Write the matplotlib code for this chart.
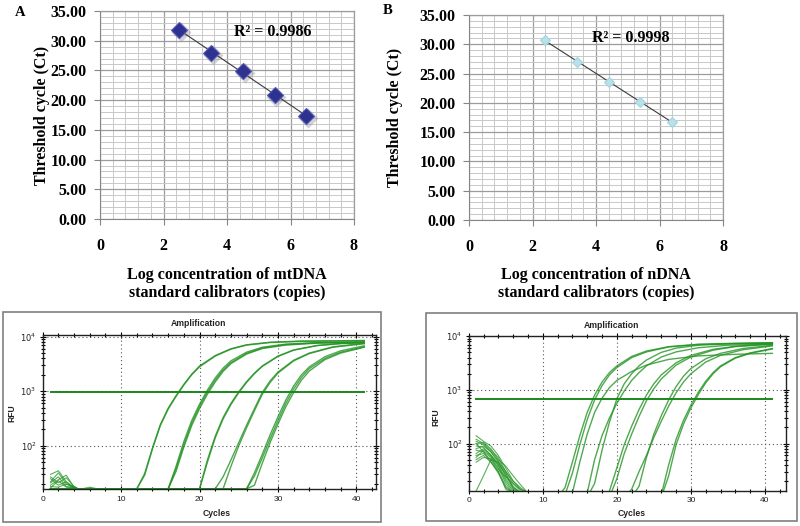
"""
plot.py
Standardkurven (mtDNA / nDNA) und Amplifikationskurven der qPCR.
"""

import matplotlib
matplotlib.use("Agg")
import matplotlib.pyplot as plt
import matplotlib.transforms as mtransforms
from matplotlib.patches import Rectangle
from matplotlib.ticker import MultipleLocator, FixedLocator, LogLocator, NullFormatter
import numpy as np

# ─── Standardkurven (oben) ────────────────────────────────────────────────────
MT_LOG = [2.5, 3.5, 4.5, 5.5, 6.5]
MT_CT = [31.8, 28.0, 24.9, 20.9, 17.3]
MT_R2 = "R² = 0.9986"

N_LOG = [2.4, 3.4, 4.4, 5.4, 6.4]
N_CT = [30.7, 27.0, 23.6, 20.2, 16.7]
N_R2 = "R² = 0.9998"

X_TICKS = [0, 2, 4, 6, 8]
Y_TICKS = [0, 5, 10, 15, 20, 25, 30, 35]

# ─── Amplifikation A (mtDNA) ──────────────────────────────────────────────────
A_G1_CYC = [1, 12, 13, 14, 15, 16, 17, 18, 19, 20, 22, 24, 26, 29, 33, 41]
A_G1_RFU = [
    [16.3, 16.3, 29, 88, 235, 470, 800, 1300, 2000, 2800, 4400, 5900, 7000, 7800, 8200, 8400],
    [16.3, 16.3, 31, 92, 245, 490, 830, 1340, 2050, 2900, 4500, 6000, 7100, 7900, 8300, 8500],
]
A_G2_CYC = [1, 16, 17, 18, 19, 20, 21, 22, 23, 24, 26, 28, 31, 35, 41]
A_G2_RFU = [
    [16.3, 16.3, 42, 120, 290, 580, 1050, 1750, 2650, 3600, 5200, 6400, 7300, 7800, 8000],
    [16.3, 16.3, 38, 105, 260, 530, 960, 1600, 2450, 3350, 4950, 6200, 7150, 7700, 7900],
    [16.3, 16.3, 34, 95, 235, 480, 880, 1480, 2300, 3200, 4800, 6050, 7000, 7600, 7850],
]
A_G3_CYC = [1, 20, 21, 22, 23, 24, 25, 26, 27, 28, 30, 32, 35, 38, 41]
A_G3_RFU = [
    [16.3, 16.3, 55, 150, 330, 600, 980, 1500, 2150, 2900, 4400, 5700, 6900, 7500, 7800],
    [16.3, 16.3, 50, 140, 310, 570, 940, 1450, 2100, 2850, 4350, 5650, 6850, 7450, 7750],
]
A_G4_CYC = [1, 22, 23, 24, 25, 26, 27, 28, 29, 30, 32, 34, 37, 41]
A_G4_RFU = [
    [16.3, 16.3, 27, 55, 115, 240, 480, 950, 1550, 2250, 3700, 5000, 6500, 7600],
    [16.3, 16.3, 16.3, 42, 100, 215, 440, 880, 1450, 2150, 3600, 4900, 6400, 7400],
]
A_G5_CYC = [1, 26, 27, 28, 29, 30, 31, 32, 33, 34, 36, 38, 41]
A_G5_RFU = [
    [16.3, 16.3, 28, 60, 135, 290, 600, 1100, 1800, 2600, 4000, 5200, 6500],
    [16.3, 16.3, 32, 70, 160, 340, 690, 1250, 2000, 2800, 4300, 5500, 6800],
    [16.3, 16.3, 19, 48, 115, 250, 520, 950, 1600, 2350, 3800, 5000, 6400],
]
A_RAUSCH_CYC = [1, 2, 3, 4, 5]
A_RAUSCH_RFU = [
    [30, 35, 22, 17, 15],
    [27, 21, 26, 18, 15],
    [22, 32, 20, 16.8, 15],
    [19, 24, 29, 17.5, 15],
    [18, 17.5, 20, 18, 15],
    [25, 19, 22, 16.8, 15],
    [17, 23, 17.5, 17, 15],
    [21, 27, 18, 17.2, 15],
]
A_HUEGEL_CYC = [5, 6, 7]
A_HUEGEL_RFU = [16.3, 17.5, 16.3]
A_SCHWELLE_CYC = [1, 41]
A_SCHWELLE_RFU = [960, 960]

# ─── Amplifikation B (nDNA) ───────────────────────────────────────────────────
B_G1_CYC = [12, 13, 14, 15, 16, 17, 18, 19, 20, 22, 24, 27, 31, 36, 41]
B_G1_RFU = [
    [10, 15, 45, 140, 380, 800, 1400, 2100, 2800, 4200, 5300, 6400, 7100, 7400, 7600],
    [10, 11, 28, 95, 280, 650, 1200, 1900, 2600, 4000, 5100, 6300, 7000, 7300, 7400],
    [10, 10, 12, 45, 150, 380, 700, 1100, 1500, 2200, 2900, 3700, 4300, 4600, 4800],
]
B_G2_CYC = [15, 16, 17, 18, 19, 20, 21, 22, 23, 24, 26, 28, 31, 35, 41]
B_G2_RFU = [
    [10, 12, 50, 140, 300, 560, 950, 1500, 2100, 2800, 4100, 5100, 6100, 6800, 7200],
    [10, 10, 18, 75, 250, 680, 1300, 2000, 2800, 3600, 5000, 6000, 6800, 7200, 7500],
]
B_G3_CYC = [18, 19, 20, 21, 22, 23, 24, 25, 26, 28, 30, 33, 36, 41]
B_G3_RFU = [
    [10, 13, 35, 95, 210, 430, 800, 1300, 1900, 3200, 4400, 5700, 6500, 7200],
    [10, 10, 22, 65, 150, 320, 630, 1050, 1600, 2900, 4100, 5500, 6400, 7100],
]
B_G4_CYC = [21, 22, 23, 24, 25, 26, 27, 28, 29, 30, 32, 34, 37, 41]
B_G4_RFU = [
    [10, 14, 30, 60, 130, 260, 500, 880, 1400, 2000, 3300, 4400, 5600, 6600],
    [10, 10, 16, 55, 150, 330, 650, 1150, 1800, 2500, 3800, 4800, 5900, 6800],
]
B_G5_CYC = [25, 26, 27, 28, 29, 30, 31, 32, 33, 34, 36, 38, 41]
B_G5_RFU = [
    [10, 11, 40, 120, 270, 520, 900, 1450, 2100, 2800, 4000, 4900, 5900],
    [10, 10, 25, 95, 230, 460, 820, 1350, 2000, 2700, 3900, 4800, 5800],
]
B_RAUSCH_CYC = [1, 2, 3, 4, 5, 6, 7, 8]
B_RAUSCH_RFU = [
    [140, 110, 90, 60, 35, 20, 15, 12],
    [120, 100, 75, 55, 30, 18, 13, 12],
    [110, 95, 70, 45, 25, 15, 12, 12],
    [100, 105, 80, 50, 38, 25, 17, 12],
    [90, 85, 60, 40, 22, 14, 12, 12],
    [80, 90, 70, 48, 30, 20, 14, 12],
    [75, 70, 55, 35, 18, 12, 12, 12],
    [65, 80, 62, 42, 26, 16, 12, 12],
    [60, 65, 50, 30, 16, 12, 12, 12],
    [55, 75, 58, 38, 20, 13, 12, 12],
    [50, 60, 45, 28, 15, 12, 12, 12],
    [45, 55, 52, 33, 24, 18, 14, 12],
    [13, 25, 50, 45, 28, 15, 12, 12],
    [100, 70, 45, 30, 14, 12, 12, 12],
]
B_SCHWELLE_CYC = [1, 41]
B_SCHWELLE_RFU = [673, 673]

# ─── Stil ─────────────────────────────────────────────────────────────────────
SERIF = ["Liberation Serif", "DejaVu Serif"]
SANS = ["Liberation Sans", "DejaVu Sans"]
GRUEN = "#239323"

fig = plt.figure(figsize=(8, 5.26), dpi=100)
W, H = 800, 526


def rect_px(links, oben, rechts, unten):
    return [links / W, 1 - unten / H, (rechts - links) / W, (unten - oben) / H]


def standardkurve(rect, x, y, r2, r2_pos, farbe, kante, ms, schatten, ylab_x):
    ax = fig.add_axes(rect)
    ax.set_xlim(0, 8)
    ax.set_ylim(0, 35)
    ax.xaxis.set_major_locator(FixedLocator(X_TICKS))
    ax.yaxis.set_major_locator(FixedLocator(Y_TICKS))
    ax.xaxis.set_minor_locator(MultipleLocator(0.4))
    ax.yaxis.set_minor_locator(MultipleLocator(1))
    ax.set_yticklabels([f"{v:.2f}" for v in Y_TICKS])
    ax.grid(which="major", color="#9c9c9c", lw=0.9)
    ax.grid(which="minor", color="#c8c8c8", lw=0.7)
    ax.set_axisbelow(True)
    for s in ("left", "bottom"):
        ax.spines[s].set_color("#868686")
    for s in ("top", "right"):
        ax.spines[s].set_color("#9c9c9c")
        ax.spines[s].set_linewidth(0.9)
    ax.tick_params(which="major", length=4, color="#868686", labelsize=11.5)
    ax.tick_params(axis="x", pad=10)
    ax.tick_params(axis="y", pad=5.5)
    ax.tick_params(which="minor", length=0)
    for lab in ax.get_xticklabels() + ax.get_yticklabels():
        lab.set_family(SERIF)
        lab.set_fontweight("bold")

    # lineare Trendlinie
    k, d = np.polyfit(x, y, 1)
    xs = np.array([min(x), max(x)])
    ax.plot(xs, k * xs + d, color="#3a3a3a", lw=0.8, zorder=3)

    if schatten:
        versatz = mtransforms.offset_copy(ax.transData, fig=fig, x=1.2, y=-1.5, units="points")
        ax.plot(x, y, "D", ms=ms + 1.5, color="#9a9aa8", alpha=0.45, mec="none",
                transform=versatz, zorder=2)
    ax.plot(x, y, "D", ms=ms, color=farbe, mec=kante, mew=0.8, zorder=4)

    ax.text(r2_pos[0], r2_pos[1], r2, transform=ax.transAxes, ha="center", va="center",
            fontsize=11.5, fontweight="bold", family=SERIF)
    ax.set_ylabel("Threshold cycle (Ct)", fontsize=11.5, fontweight="bold", family=SERIF)
    ax.yaxis.set_label_coords(ylab_x, 0.5)
    return ax


def amplifikation(rect, gruppen, rauschen, schwelle, xlim, ylim):
    ax = fig.add_axes(rect)
    ax.set_yscale("log")
    for cyc, reps in gruppen:
        for rfu in reps:
            ax.plot(cyc, rfu, color=GRUEN, lw=1.0, alpha=0.8)
    for cyc, reps in rauschen:
        for rfu in reps:
            ax.plot(cyc, rfu, color=GRUEN, lw=0.8, alpha=0.75)
    ax.plot(schwelle[0], schwelle[1], color="#1c871c", lw=1.4)

    ax.set_xlim(*xlim)
    ax.set_ylim(*ylim)
    ax.xaxis.set_major_locator(MultipleLocator(10))
    ax.xaxis.set_minor_locator(MultipleLocator(2))
    ax.yaxis.set_major_locator(FixedLocator([1e2, 1e3, 1e4]))
    ax.yaxis.set_minor_locator(LogLocator(base=10, subs=np.arange(2, 10)))
    ax.yaxis.set_minor_formatter(NullFormatter())
    ax.set_yticklabels([r"$10^2$", r"$10^3$", r"$10^4$"])
    ax.grid(which="major", color="#555555", lw=0.8, linestyle=(0, (1, 2.5)))
    ax.tick_params(which="both", direction="inout", top=True, right=True,
                   labelsize=6, labelcolor="#222222", width=0.8)
    ax.tick_params(which="major", length=5, pad=2)
    ax.tick_params(which="minor", length=3)
    for lab in ax.get_xticklabels() + ax.get_yticklabels():
        lab.set_family(SANS)
    for s in ax.spines.values():
        s.set_linewidth(1.0)
        s.set_color("#222222")
    return ax


# ─── Obere Reihe ──────────────────────────────────────────────────────────────
standardkurve(rect_px(100, 11, 354, 219), MT_LOG, MT_CT, MT_R2, (0.68, 0.90),
              "#2d318f", "#5356b0", 8.5, True, -0.195)
standardkurve(rect_px(469, 15, 723, 220), N_LOG, N_CT, N_R2, (0.635, 0.888),
              "#b8e1e9", "#a4d4de", 5.5, False, -0.26)

fig.text(227 / W, 1 - 284 / H, "Log concentration of mtDNA\nstandard calibrators (copies)",
         ha="center", va="center", fontsize=11.5, fontweight="bold", family=SERIF,
         linespacing=1.15)
fig.text(596 / W, 1 - 284 / H, "Log concentration of nDNA\nstandard calibrators (copies)",
         ha="center", va="center", fontsize=11.5, fontweight="bold", family=SERIF,
         linespacing=1.15)
fig.text(20 / W, 1 - 12 / H, "A", ha="center", va="center", fontsize=10.5,
         fontweight="bold", family=SERIF)
fig.text(388 / W, 1 - 10 / H, "B", ha="center", va="center", fontsize=10.5,
         fontweight="bold", family=SERIF)

# ─── Untere Reihe ─────────────────────────────────────────────────────────────
for box in [(2.7, 311.7, 381, 522), (426, 313.3, 797, 521)]:
    l, o, r, u = box
    fig.patches.append(Rectangle((l / W, 1 - u / H), (r - l) / W, (u - o) / H,
                                 transform=fig.transFigure, fill=False,
                                 edgecolor="#7f7f7f", lw=1.2))

amplifikation(rect_px(42.7, 335, 376, 489.3),
              [(A_G1_CYC, A_G1_RFU), (A_G2_CYC, A_G2_RFU), (A_G3_CYC, A_G3_RFU),
               (A_G4_CYC, A_G4_RFU), (A_G5_CYC, A_G5_RFU)],
              [(A_RAUSCH_CYC, A_RAUSCH_RFU), (A_HUEGEL_CYC, [A_HUEGEL_RFU])],
              (A_SCHWELLE_CYC, A_SCHWELLE_RFU), (0, 42.5), (16.0, 10 ** 4.03))
amplifikation(rect_px(468.7, 335.7, 785.7, 490.7),
              [(B_G1_CYC, B_G1_RFU), (B_G2_CYC, B_G2_RFU), (B_G3_CYC, B_G3_RFU),
               (B_G4_CYC, B_G4_RFU), (B_G5_CYC, B_G5_RFU)],
              [(B_RAUSCH_CYC, B_RAUSCH_RFU)],
              (B_SCHWELLE_CYC, B_SCHWELLE_RFU), (0, 42.8), (13.2, 10 ** 4.01))

for x, y, t, rot in [(198, 323.5, "Amplification", 0), (611.7, 325, "Amplification", 0),
                     (216.7, 513.3, "Cycles", 0), (631.7, 513.3, "Cycles", 0),
                     (11.7, 413, "RFU", 90), (436, 416.7, "RFU", 90)]:
    fig.text(x / W, 1 - y / H, t, ha="center", va="center", fontsize=6.2,
             fontweight="bold", family=SANS, rotation=rot, color="#222222")

plt.savefig("out.png", dpi=100)
plt.close()
